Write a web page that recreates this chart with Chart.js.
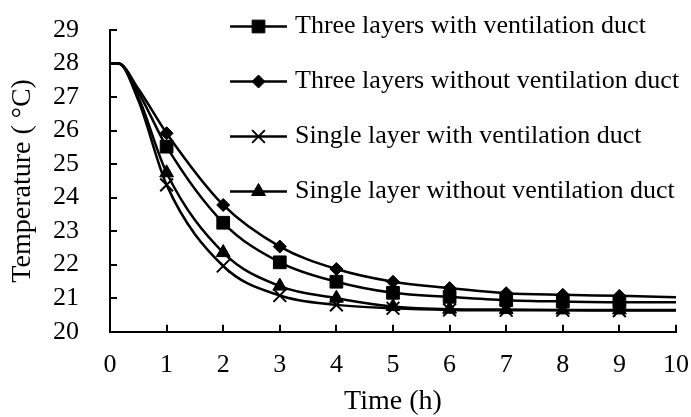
<!DOCTYPE html>
<html>
<head>
<meta charset="utf-8">
<script src="https://cdn.jsdelivr.net/npm/chart.js@4.4.1/dist/chart.umd.min.js"></script>
<style>
    html, body { margin: 0; padding: 0; background: #fff; }
    #wrap { width: 691px; height: 417px; }
</style>
</head>
<body>
<div id="wrap"><canvas id="chart" width="691" height="417"></canvas></div>
<script>
// time axis (h) and measured temperatures (°C)
const hours = [0, 0.15, 0.5, 1, 2, 3, 4, 5, 6, 7, 8, 9, 10];
const markerHours = [1, 2, 3, 4, 5, 6, 7, 8, 9];

const threeWithDuct    = [28, 28, 27.15, 25.52, 23.25, 22.07, 21.49, 21.16, 21.04, 20.94, 20.90, 20.88, 20.88];
const threeWithoutDuct = [28, 28, 27.25, 25.92, 23.78, 22.54, 21.87, 21.49, 21.30, 21.15, 21.10, 21.07, 21.03];
const singleWithDuct   = [28, 28, 26.90, 24.38, 21.96, 21.08, 20.80, 20.70, 20.65, 20.64, 20.64, 20.63, 20.63];
const singleWithoutDuct = [28, 28, 27.00, 24.74, 22.36, 21.36, 21.00, 20.75, 20.67, 20.66, 20.65, 20.65, 20.65];

const seriesNames = [
    'Three layers with ventilation duct',
    'Three layers without ventilation duct',
    'Single layer with ventilation duct',
    'Single layer without ventilation duct'
];

const xTicks = [0, 1, 2, 3, 4, 5, 6, 7, 8, 9, 10];
const yTicks = [20, 21, 22, 23, 24, 25, 26, 27, 28, 29];

const FONT = "'Liberation Serif', 'Times New Roman', serif";
const legendRadius = [9, 6.5, 9, 8];

function makeSeries(name, values, style, radius) {
    return {
        label: name,
        data: hours.map((h, i) => ({ x: h, y: values[i] })),
        borderColor: '#000',
        backgroundColor: '#000',
        borderWidth: 2.5,
        cubicInterpolationMode: 'monotone',
        pointStyle: style,
        pointRadius: ctx => markerHours.includes(ctx.raw.x) ? radius : 0,
        pointBorderWidth: style === 'crossRot' ? 2 : 1,
        pointBackgroundColor: '#000',
        pointBorderColor: '#000'
    };
}

// inward tick marks on both axes
const innerTicks = {
    id: 'innerTicks',
    afterDraw(chart) {
        const { ctx, chartArea, scales } = chart;
        ctx.save();
        ctx.strokeStyle = '#000';
        ctx.lineWidth = 2;
        ctx.beginPath();
        yTicks.forEach(v => {
            const y = Math.round(scales.y.getPixelForValue(v));
            ctx.moveTo(chartArea.left, y);
            ctx.lineTo(chartArea.left + 7, y);
        });
        xTicks.forEach(v => {
            const x = Math.round(scales.x.getPixelForValue(v));
            ctx.moveTo(x, chartArea.bottom);
            ctx.lineTo(x, chartArea.bottom - 7);
        });
        ctx.stroke();
        ctx.restore();
    }
};

// legend drawn as line + marker samples stacked in the upper right
const sampleLegend = {
    id: 'sampleLegend',
    afterDraw(chart) {
        const { ctx } = chart;
        const x0 = 230, x1 = 287, top = 26.5, step = 55;
        ctx.save();
        chart.data.datasets.forEach((ds, i) => {
            const y = top + i * step;
            ctx.strokeStyle = '#000';
            ctx.fillStyle = '#000';
            ctx.lineWidth = 2.5;
            ctx.beginPath();
            ctx.moveTo(x0, y);
            ctx.lineTo(x1, y);
            ctx.stroke();
            ctx.lineWidth = ds.pointBorderWidth;
            Chart.helpers.drawPoint(ctx, {
                pointStyle: ds.pointStyle,
                radius: legendRadius[i],
                rotation: 0,
                borderWidth: ds.pointBorderWidth
            }, (x0 + x1) / 2, y);
            ctx.font = '26px ' + FONT;
            ctx.textBaseline = 'middle';
            ctx.textAlign = 'left';
            ctx.fillText(ds.label, 295, y);
        });
        ctx.restore();
    }
};

new Chart(document.getElementById('chart'), {
    type: 'line',
    data: {
        datasets: [
            makeSeries(seriesNames[0], threeWithDuct, 'rect', 9),
            makeSeries(seriesNames[1], threeWithoutDuct, 'rectRot', 6.5),
            makeSeries(seriesNames[2], singleWithDuct, 'crossRot', 9),
            makeSeries(seriesNames[3], singleWithoutDuct, 'triangle', 8)
        ]
    },
    options: {
        responsive: false,
        animation: false,
        events: [],
        layout: { padding: { top: 30, right: 15, bottom: 0, left: 0 } },
        plugins: {
            legend: { display: false },
            tooltip: { enabled: false }
        },
        scales: {
            x: {
                type: 'linear',
                min: 0,
                max: 10,
                afterFit: s => { s.height = 85.3; s.paddingLeft = 0; s.paddingRight = 0; },
                afterBuildTicks: s => { s.ticks = xTicks.map(v => ({ value: v })); },
                grid: { display: false, drawTicks: false },
                border: { display: true, color: '#000', width: 2 },
                ticks: {
                    color: '#000',
                    padding: 18,
                    autoSkip: false,
                    maxRotation: 0,
                    font: { family: FONT, size: 26 }
                },
                title: {
                    display: true,
                    text: 'Time (h)',
                    color: '#000',
                    font: { family: FONT, size: 28, lineHeight: 1 },
                    padding: { top: 0, bottom: 1 }
                }
            },
            y: {
                min: 20,
                max: 29,
                afterFit: s => { s.width = 110; s.paddingTop = 0; s.paddingBottom = 0; },
                afterBuildTicks: s => { s.ticks = yTicks.map(v => ({ value: v })); },
                grid: { display: false, drawTicks: false },
                border: { display: true, color: '#000', width: 2 },
                ticks: {
                    color: '#000',
                    padding: 31,
                    autoSkip: false,
                    font: { family: FONT, size: 26 }
                },
                title: {
                    display: true,
                    text: 'Temperature ( °C)',
                    color: '#000',
                    font: { family: FONT, size: 28, lineHeight: 1 },
                    padding: { top: 9, bottom: 0 }
                }
            }
        }
    },
    plugins: [innerTicks, sampleLegend]
});
</script>
</body>
</html>
